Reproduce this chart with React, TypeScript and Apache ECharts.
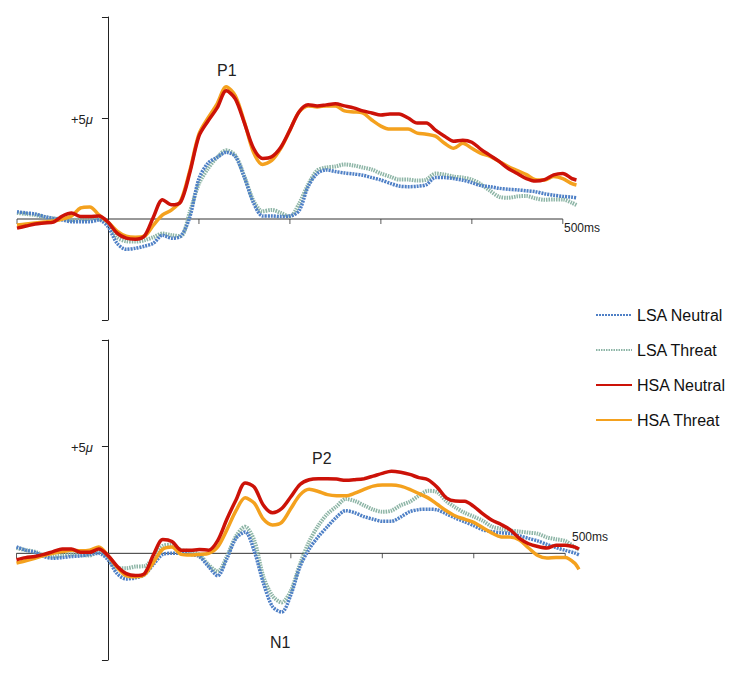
import React, { useEffect, useRef } from "react";
import * as echarts from "echarts";

const timesMs = [-100,-90,-80,-70,-60,-50,-40,-30,-20,-10,0,10,20,30,40,50,60,70,80,90,100,110,120,130,140,150,160,170,180,190,200,210,220,230,240,250,260,270,280,290,300,310,320,330,340,350,360,370,380,390,400,410,420,430,440,450,460,470,480,490,500,510,515];

const seriesNames = ["LSA Neutral", "LSA Threat", "HSA Neutral", "HSA Threat"];

// Top panel (P1)
const topLsaNeutral = [0.36,0.3,0.25,0.12,0.03,-0.05,-0.13,-0.13,-0.13,-0.05,-0.38,-1.2,-1.5,-1.45,-1.35,-1.2,-0.8,-0.95,-0.85,0.1,2.0,2.77,3.05,3.3,3.1,2.05,0.8,0.15,0.15,0.12,0.15,0.4,1.6,2.25,2.43,2.35,2.28,2.23,2.17,2.05,1.93,1.77,1.63,1.6,1.62,1.7,2.05,2.05,2.0,1.92,1.8,1.65,1.6,1.52,1.47,1.44,1.4,1.35,1.25,1.18,1.12,1.08,1.05];
const topLsaThreat = [0.3,0.25,0.2,0.1,0.03,0.0,-0.05,-0.02,0.0,0.0,-0.2,-0.9,-1.1,-1.12,-1.05,-0.9,-0.72,-0.8,-0.85,0.35,1.75,2.5,3.05,3.4,3.15,2.1,0.9,0.38,0.45,0.3,0.12,0.75,1.7,2.4,2.55,2.6,2.7,2.65,2.55,2.45,2.25,2.1,1.95,1.95,1.9,1.95,2.25,2.2,2.1,2.05,1.95,1.72,1.4,1.1,1.05,1.12,1.14,1.02,0.95,0.97,0.97,0.8,0.69];
const topHsaNeutral = [-0.45,-0.35,-0.25,-0.2,-0.15,0.15,0.3,0.12,0.12,0.15,-0.15,-0.7,-0.95,-1.0,-0.85,0.1,0.95,0.7,0.85,2.3,4.1,4.85,5.5,6.35,5.95,4.75,3.5,3.0,3.08,3.55,4.4,5.3,5.65,5.6,5.65,5.7,5.6,5.5,5.35,5.25,5.15,5.2,5.2,5.0,4.75,4.75,4.4,4.1,3.85,3.9,3.8,3.45,3.15,2.85,2.5,2.25,2.0,1.88,1.95,2.18,2.25,2.0,1.93];
const topHsaThreat = [-0.3,-0.25,-0.2,-0.15,-0.1,0.0,0.15,0.55,0.6,0.2,-0.15,-0.6,-0.85,-0.9,-0.85,-0.3,0.2,0.45,0.9,2.4,4.2,5.0,5.7,6.55,6.1,4.8,3.3,2.7,2.9,3.5,4.4,5.3,5.6,5.55,5.6,5.6,5.35,5.3,5.25,4.9,4.6,4.45,4.45,4.45,4.25,4.2,4.1,3.75,3.5,3.75,3.5,3.25,3.1,2.85,2.6,2.4,2.2,1.95,1.93,2.1,2.0,1.75,1.68];

// Bottom panel (N1 / P2)
const botLsaNeutral = [0.3,0.15,0.05,-0.15,-0.23,-0.2,-0.15,-0.12,-0.05,0.0,-0.3,-0.95,-1.2,-1.15,-1.0,-0.5,-0.05,0.0,0.0,-0.05,-0.15,-0.62,-1.05,-0.25,0.7,1.0,0.1,-1.4,-2.5,-2.75,-1.95,-0.62,0.2,0.78,1.25,1.7,2.0,1.9,1.72,1.6,1.5,1.5,1.7,1.95,2.05,2.07,2.04,1.85,1.65,1.48,1.3,1.1,1.02,0.96,0.93,0.82,0.7,0.58,0.42,0.27,0.14,0.02,-0.07];
const botLsaThreat = [0.25,0.15,0.08,-0.1,-0.15,-0.1,-0.05,-0.08,-0.1,0.1,-0.2,-0.7,-0.7,-0.62,-0.6,-0.2,0.35,0.4,0.15,0.1,-0.07,-0.54,-0.85,-0.15,0.8,1.25,0.6,-1.1,-2.0,-2.3,-1.75,-0.5,0.55,1.3,1.85,2.2,2.55,2.45,2.25,2.05,1.95,2.0,2.25,2.42,2.7,2.93,2.87,2.45,2.15,1.9,1.72,1.52,1.25,1.15,1.07,1.02,0.97,0.92,0.75,0.66,0.58,0.3,0.17];
const botHsaNeutral = [-0.3,-0.2,-0.15,-0.05,0.08,0.2,0.2,0.05,0.05,0.2,-0.1,-0.6,-0.95,-1.04,-0.95,-0.05,0.65,0.55,0.15,0.14,0.18,0.15,0.6,1.6,2.5,3.3,3.1,2.25,1.9,2.1,2.65,3.23,3.45,3.5,3.5,3.48,3.42,3.45,3.5,3.62,3.75,3.85,3.8,3.7,3.55,3.45,3.1,2.6,2.45,2.44,2.2,1.85,1.55,1.35,1.1,0.7,0.45,0.32,0.25,0.38,0.38,0.3,0.2];
const botHsaThreat = [-0.46,-0.35,-0.23,-0.1,0.0,0.08,0.14,0.12,0.15,0.3,-0.1,-0.65,-1.05,-1.1,-1.0,-0.4,0.2,0.3,-0.05,-0.08,-0.05,0.0,0.3,1.1,2.0,2.6,2.35,1.6,1.33,1.45,2.1,2.74,3.0,2.9,2.75,2.7,2.7,2.82,3.0,3.15,3.2,3.2,3.15,3.0,2.8,2.6,2.3,2.0,1.75,1.6,1.45,1.2,0.95,0.77,0.76,0.62,0.25,-0.1,-0.22,-0.2,-0.2,-0.45,-0.75];

const xTicksMs = [-100, 100, 200, 300, 400, 500];
const baselineMs = [-100, 500];
const yLabelValue = 5;

const colors: Record<string, string> = {
  "LSA Neutral": "#4f80c6",
  "LSA Threat": "#8db5a6",
  "HSA Neutral": "#cc1208",
  "HSA Threat": "#f4a11e",
};

const lineStyles: Record<string, any> = {
  "LSA Neutral": { width: 3.5, type: [2, 1] },
  "LSA Threat": { width: 4, type: [1.5, 1] },
  "HSA Neutral": { width: 3.5, type: "solid" },
  "HSA Threat": { width: 3.5, type: "solid" },
};

const panels = [
  { "LSA Neutral": topLsaNeutral, "LSA Threat": topLsaThreat, "HSA Neutral": topHsaNeutral, "HSA Threat": topHsaThreat },
  { "LSA Neutral": botLsaNeutral, "LSA Threat": botLsaThreat, "HSA Neutral": botHsaNeutral, "HSA Threat": botHsaThreat },
];

const drawOrder = ["LSA Threat", "LSA Neutral", "HSA Threat", "HSA Neutral"];

export default function App() {
  const ref = useRef<HTMLDivElement>(null);
  useEffect(() => {
    if (!ref.current) return;
    const chart = echarts.init(ref.current, null, { renderer: "svg" });
    const font = "'Liberation Sans', Arial, sans-serif";

    const series: any[] = [];
    panels.forEach((panel: any, g) => {
      series.push({
        type: "line",
        xAxisIndex: g,
        yAxisIndex: g,
        data: baselineMs.map((t) => [t, 0]),
        symbol: "none",
        silent: true,
        z: 1,
        lineStyle: { color: "#333", width: 1 },
      });
      series.push({
        type: "scatter",
        xAxisIndex: g,
        yAxisIndex: g,
        data: xTicksMs.map((t) => [t, 0]),
        symbol: "rect",
        symbolSize: [1, 5],
        symbolOffset: [0, 2.5],
        silent: true,
        z: 1,
        itemStyle: { color: "#333" },
      });
      drawOrder.forEach((name) => {
        series.push({
          name,
          type: "line",
          xAxisIndex: g,
          yAxisIndex: g,
          data: timesMs.map((t, i) => [t, panel[name][i]]),
          symbol: "none",
          smooth: 0.3,
          z: 2,
          color: colors[name],
          lineStyle: { color: colors[name], ...lineStyles[name] },
        });
      });
    });

    const yAxisBase = {
      type: "value",
      min: -5,
      max: 10,
      interval: 5,
      splitLine: { show: false },
      axisLine: { show: true, onZero: true, lineStyle: { color: "#222", width: 1 } },
      axisTick: { show: true, length: 6, inside: false, lineStyle: { color: "#222" } },
      axisLabel: { show: false },
    };
    const xAxisBase = {
      type: "value",
      min: -100,
      max: 520,
      axisLine: { show: false, onZero: false },
      axisTick: { show: false },
      axisLabel: { show: false },
      splitLine: { show: false },
    };

    const gridsCfg = [
      { left: 17, top: 17, width: 564, height: 303, outerBoundsMode: "none", containLabel: false },
      { left: 16.5, top: 340, width: 567, height: 320, outerBoundsMode: "none", containLabel: false },
    ];

    chart.setOption({
      animation: false,
      backgroundColor: "#ffffff",
      grid: gridsCfg,
      xAxis: [
        { ...xAxisBase, gridIndex: 0 },
        { ...xAxisBase, gridIndex: 1 },
      ],
      yAxis: [
        { ...yAxisBase, gridIndex: 0 },
        { ...yAxisBase, gridIndex: 1 },
      ],
      legend: {
        data: seriesNames,
        orient: "vertical",
        left: 590,
        top: 302,
        itemWidth: 36,
        itemHeight: 16,
        itemGap: 19,
        itemStyle: { opacity: 0 },
        textStyle: { fontSize: 16, color: "#111", fontFamily: font },
        selectedMode: false,
      },
      series,
    });

    const graphics: any[] = [
      { type: "text", left: 217, top: 62, style: { text: "P1", fontSize: 16, fill: "#222", fontFamily: font } },
      { type: "text", left: 312, top: 450, style: { text: "P2", fontSize: 16, fill: "#222", fontFamily: font } },
      { type: "text", left: 270, top: 634, style: { text: "N1", fontSize: 16, fill: "#222", fontFamily: font } },
      { type: "text", left: 564, top: 222, style: { text: "500ms", fontSize: 12, fill: "#222", fontFamily: font } },
      { type: "text", left: 572, top: 531, style: { text: "500ms", fontSize: 12, fill: "#222", fontFamily: font } },
    ];
    // "+5μ" labels placed from the axis scales
    [0, 1].forEach((g) => {
      const p = chart.convertToPixel({ gridIndex: g } as any, [0, yLabelValue]) as number[];
      if (!p) return;
      graphics.push({
        type: "text",
        x: p[0] - 15,
        y: p[1] + 1,
        style: {
          text: "{a|+5}{b|μ}",
          align: "right",
          verticalAlign: "middle",
          rich: {
            a: { fontSize: 13, fill: "#222", fontFamily: font },
            b: { fontSize: 13, fill: "#222", fontStyle: "italic", fontFamily: font },
          },
        },
      });
    });
    chart.setOption({ graphic: graphics });

    return () => chart.dispose();
  }, []);

  return (
    <div
      ref={ref}
      style={{ position: "fixed", left: 0, top: 0, width: 750, height: 677, background: "#fff" }}
    />
  );
}
